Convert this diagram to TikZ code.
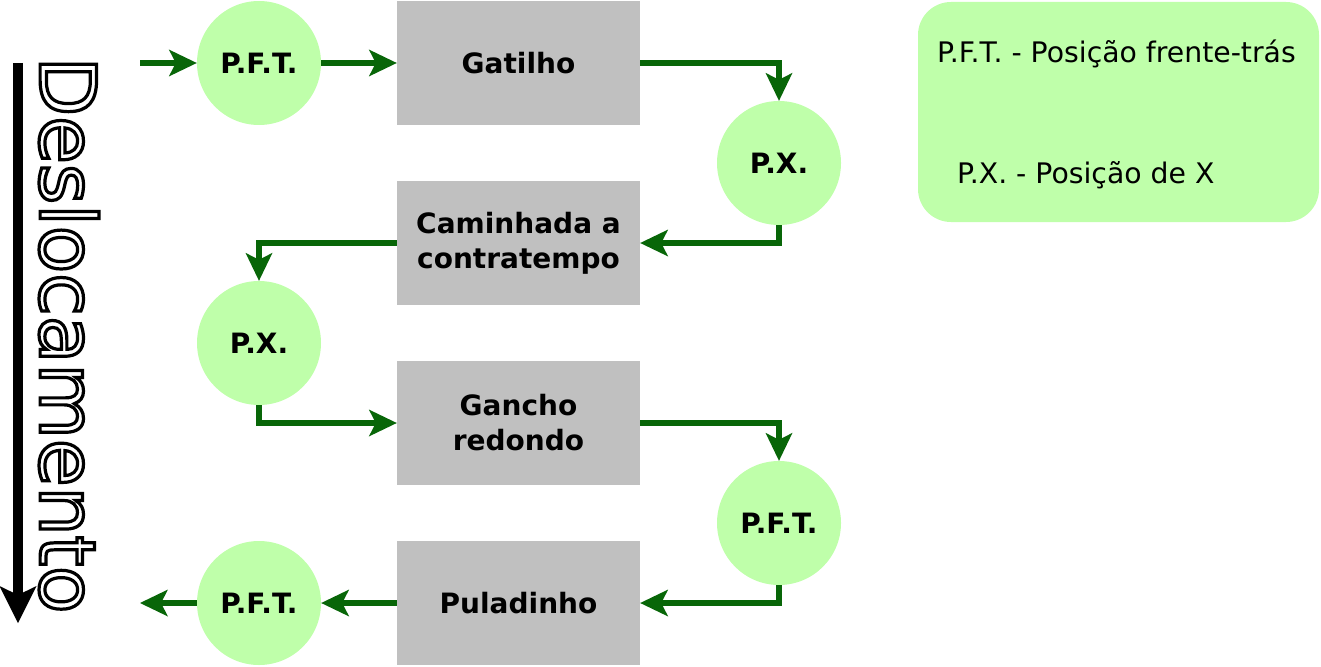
\documentclass[tikz,border=0pt]{standalone}
\usepackage{fontspec}
\setmainfont{DejaVu Sans}
\usetikzlibrary{arrows.meta}
\definecolor{nodegreen}{RGB}{191,255,170}
\definecolor{linegreen}{RGB}{8,102,8}
\definecolor{boxgray}{RGB}{192,192,192}
\newcommand\outlinetext[1]{\special{pdf:literal direct 1 Tr 3.2 w}#1\special{pdf:literal direct 0 Tr}}
\tikzset{
  posnode/.style={circle, fill=nodegreen, minimum size=124pt, inner sep=0pt,
    font=\fontsize{28}{35}\selectfont\bfseries},
  stepbox/.style={rectangle, fill=boxgray, minimum width=243pt, minimum height=124pt,
    inner sep=0pt, align=center, font=\fontsize{28}{35}\selectfont\bfseries},
  flow/.style={draw=linegreen, line width=6pt,
    -{Stealth[length=28pt,width=27pt,inset=7pt,line width=0pt]}},
  legendtext/.style={anchor=base west, inner sep=0pt, font=\fontsize{28.3}{35}\selectfont},
}
\begin{document}
\begin{tikzpicture}[x=1pt,y=-1pt]
\useasboundingbox (0,0) rectangle (1321,666);
% legend
\node[rectangle, fill=nodegreen, rounded corners=33pt, minimum width=401pt,
  minimum height=220pt, inner sep=0pt] (legend) at (1118.5,112) {};
\node[legendtext] (leg1) at (937,63) {P.F.T. - Posição frente-trás};
\node[legendtext] (leg2) at (957,183) {P.X. - Posição de X};
% flow nodes
\node[posnode] (pft1) at (259,63) {P.F.T.};
\node[stepbox] (gat) at (518.5,63) {Gatilho};
\node[posnode] (px1) at (779,163) {P.X.};
\node[stepbox] (cam) at (518.5,243) {Caminhada a\\contratempo};
\node[posnode] (px2) at (259,343) {P.X.};
\node[stepbox] (gan) at (518.5,423) {Gancho\\redondo};
\node[posnode] (pft2) at (779,523) {P.F.T.};
\node[stepbox] (pul) at (518.5,603) {Puladinho};
\node[posnode] (pft3) at (259,603) {P.F.T.};
\coordinate (start) at (140,63);
\coordinate (finish) at (140,603);
% connectors
\draw[flow] (start) -- (pft1.west);
\draw[flow] (pft1.east) -- (gat.west);
\draw[flow] (gat.east) -| (px1.north);
\draw[flow] (px1.south) |- (cam.east);
\draw[flow] (cam.west) -| (px2.north);
\draw[flow] (px2.south) |- (gan.west);
\draw[flow] (gan.east) -| (pft2.north);
\draw[flow] (pft2.south) |- (pul.east);
\draw[flow] (pul.west) -- (pft3.east);
\draw[flow] (pft3.west) -- (finish);
% displacement arrow and label
\coordinate (dtop) at (18,63);
\coordinate (dbot) at (18,623);
\draw[line width=10pt, -{Stealth[length=37pt,width=37pt,inset=9pt,line width=0pt]}] (dtop) -- (dbot);
\node[rotate=-90, inner sep=0pt, font=\fontsize{77.5}{78}\selectfont] (desl) at (69,335) {\outlinetext{Deslocamento}};
\end{tikzpicture}
\end{document}
